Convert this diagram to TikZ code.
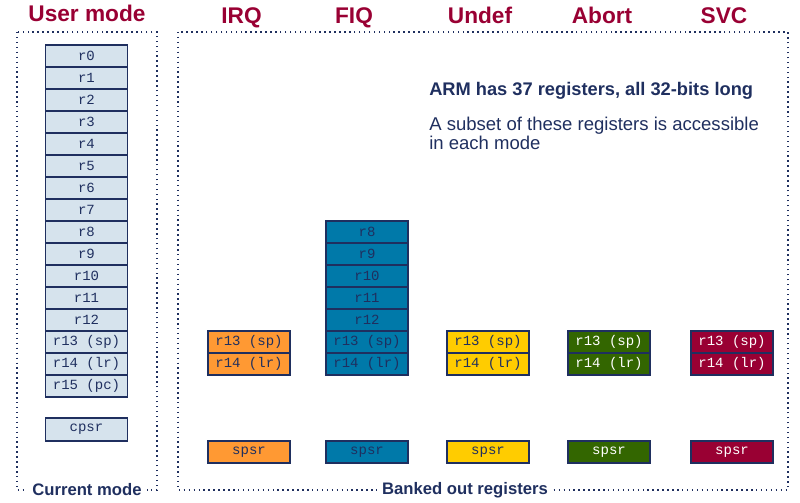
\documentclass[tikz,border=0pt]{standalone}
\usepackage{fontspec}
\setmainfont{Liberation Sans}
\setmonofont{Liberation Mono}
\usetikzlibrary{positioning}

\definecolor{armred}{HTML}{990033}
\definecolor{armnavy}{HTML}{1F2F5F}
\definecolor{userfill}{HTML}{D6E3ED}
\definecolor{irqfill}{HTML}{FF9933}
\definecolor{fiqfill}{HTML}{0079A9}
\definecolor{undfill}{HTML}{FFCC00}
\definecolor{abtfill}{HTML}{336600}
\definecolor{svcfill}{HTML}{990033}

\begin{document}
\begin{tikzpicture}[
    x=0.75pt, y=-0.75pt,
    reg/.style     = {draw=armnavy, line width=1.1pt, inner sep=0pt,
                      minimum width=61.5pt, minimum height=16.5pt,
                      font=\ttfamily\fontsize{10.5}{12}\selectfont, text=armnavy},
    mode/.style    = {anchor=base, inner sep=0pt,
                      font=\bfseries\fontsize{17}{20}\selectfont, text=armred},
    frame/.style   = {draw=armnavy, line width=1.1pt, dash pattern=on 1.1pt off 2.6pt},
    caption/.style = {fill=white, inner xsep=4pt, inner ysep=1pt,
                      font=\bfseries\fontsize{12.5}{14}\selectfont, text=armnavy},
    note/.style    = {anchor=base west, inner sep=0pt, align=left, text=armnavy}
]
\useasboundingbox (0,0) rectangle (800,503);

% mode frames
\draw[frame] (17,32) rectangle (157,490);
\draw[frame] (178,32) rectangle (788,490);
\node[caption] (cur)  at (87,490)  {Current mode};
\node[caption] (bank) at (465,490) {Banked out registers};

% mode titles
\node[mode] (tuser) at (87,22) {User mode};
\foreach \m/\x/\t in {irq/241.5/IRQ, fiq/354/FIQ, und/480/Undef, abt/602/Abort, svc/724/SVC}
    \node[mode] (t\m) at (\x,24) {\t};

% user mode register file
\foreach \i/\t in {0/r0, 1/r1, 2/r2, 3/r3, 4/r4, 5/r5, 6/r6, 7/r7, 8/r8, 9/r9,
                   10/r10, 11/r11, 12/r12, 13/r13 (sp), 14/r14 (lr), 15/r15 (pc)}
    \node[reg, fill=userfill] (u\i) at (86.5, 56+22*\i) {\t};
\node[reg, fill=userfill, minimum height=17.25pt] (ucpsr) at (86.5,429.5) {cpsr};

% FIQ banks r8 -- r14
\foreach \i/\t in {8/r8, 9/r9, 10/r10, 11/r11, 12/r12, 13/r13 (sp), 14/r14 (lr)}
    \node[reg, fill=fiqfill] (fiq\i) at (367, 232+22*\i-176) {\t};
\node[reg, fill=fiqfill] (fiqspsr) at (367,452) {spsr};

% other modes bank r13, r14 and spsr
\foreach \m/\x/\c/\tc in {irq/249/irqfill/armnavy, und/488/undfill/armnavy,
                          abt/609/abtfill/white, svc/732/svcfill/white} {
    \node[reg, fill=\c, text=\tc] (\m13)   at (\x,342) {r13 (sp)};
    \node[reg, fill=\c, text=\tc] (\m14)   at (\x,364) {r14 (lr)};
    \node[reg, fill=\c, text=\tc] (\m spsr) at (\x,452) {spsr};
}

% notes (base of the second one is its last line)
\node[note, font=\bfseries\fontsize{13.7}{16}\selectfont] (head) at (429,96)
    {ARM has 37 registers, all 32-bits long};
\node[note, font=\fontsize{13.9}{12.75}\selectfont] (sub) at (429,149)
    {A subset of these registers is accessible\\in each mode};

\end{tikzpicture}
\end{document}
